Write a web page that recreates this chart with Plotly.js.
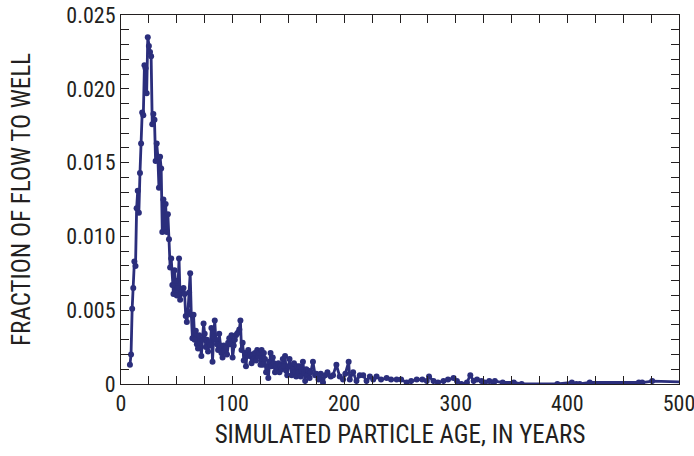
<!DOCTYPE html>
<html><head><meta charset="utf-8">
<script src="https://cdn.plot.ly/plotly-3.0.1.min.js"></script>
<style>html,body{margin:0;padding:0;background:#fff}#c{width:694px;height:456px}</style>
</head><body><div id="c"></div>
<script>
const ageYears = [8,9,10,11,12,13,14,15,16,17,18,19,20,21,22,23,24,25,26,27,28,29,30,31,32,33,34,35,36,37,38,39,40,41,42,43,44,45,46,47,48,49,50,51,52,53,54,55,56,57,58,59,60,61,62,63,64,65,66,67,68,69,70,71,72,73,74,75,76,77,78,79,80,81,82,83,84,85,86,87,88,89,90,91,92,93,94,95,96,97,98,99,100,101,102,103,104,105,106,107,108,109,110,111,112,113,114,115,116,117,118,119,120,121,122,123,124,125,126,127,128,129,130,131,132,133,134,135,136,137,138,139,140,141,142,143,144,145,146,147,148,149,150,151,152,153,154,155,156,157,158,159,160,161,162,163,164,165,166,167,168,169,170,172,174,175,177,179,181,183,185,188,190,193,196,199,201,204,205,208,211,214,217,220,223,226,229,233,238,242,247,251,256,260,265,270,274,276,280,284,289,293,298,301,305,310,313,316,319,323,326,330,334,335,342,352,359,391,404,408,411,420,464,467,476,520];
const flowFraction = [0.0013,0.0020,0.0051,0.0065,0.0083,0.0080,0.0119,0.0131,0.0116,0.0143,0.0163,0.0184,0.0182,0.0216,0.0214,0.0197,0.0235,0.0229,0.0225,0.0222,0.0176,0.0183,0.0179,0.0151,0.0163,0.0154,0.0133,0.0154,0.0146,0.0103,0.0125,0.0105,0.0122,0.0103,0.0115,0.0098,0.0079,0.0085,0.0067,0.0061,0.0077,0.0070,0.0060,0.0065,0.0085,0.0057,0.0062,0.0064,0.0065,0.0061,0.0046,0.0042,0.0049,0.0062,0.0075,0.0047,0.0031,0.0047,0.0030,0.0036,0.0027,0.0024,0.0033,0.0028,0.0019,0.0030,0.0041,0.0034,0.0025,0.0030,0.0022,0.0028,0.0026,0.0038,0.0015,0.0032,0.0043,0.0030,0.0027,0.0023,0.0034,0.0026,0.0021,0.0018,0.0026,0.0022,0.0025,0.0020,0.0028,0.0031,0.0027,0.0033,0.0018,0.0026,0.0030,0.0033,0.0034,0.0035,0.0037,0.0043,0.0023,0.0028,0.0016,0.0021,0.0012,0.0021,0.0023,0.0019,0.0020,0.0014,0.0020,0.0017,0.0021,0.0016,0.0023,0.0019,0.0021,0.0013,0.0023,0.0013,0.0021,0.0017,0.0008,0.0012,0.0004,0.0015,0.0021,0.0012,0.0018,0.0014,0.0008,0.0012,0.0009,0.0014,0.0008,0.0012,0.0010,0.0017,0.0012,0.0019,0.0009,0.0006,0.0012,0.0017,0.0012,0.0006,0.0010,0.0014,0.0008,0.0005,0.0012,0.0008,0.0012,0.0005,0.0009,0.0015,0.0008,0.0002,0.0010,0.0006,0.0009,0.0004,0.0008,0.0015,0.0006,0.0007,0.0003,0.0007,0.0001,0.0006,0.0008,0.0005,0.0006,0.0013,0.0005,0.0003,0.0007,0.0015,0.0003,0.0008,0.0002,0.0006,0.0006,0.0002,0.0005,0.0003,0.0005,0.0003,0.0004,0.0003,0.0003,0.0003,0.0001,0.0002,0.0003,0.0003,0.0002,0.0005,0.0002,0.0001,0.0002,0.0003,0.0004,0.0002,0.0000,0.0001,0.0006,0.0002,0.0003,0.0002,0.0001,0.0002,0.0000,0.0002,0.0001,0.0001,0.0000,0.0000,0.0001,0.0000,0.0000,0.0001,0.0001,0.0001,0.0002,0.0001];
const xTickVals = [0,100,200,300,400,500];
const xTickText = ['0','100','200','300','400','500'];
const yTickVals = [0,0.005,0.010,0.015,0.020,0.025];
const yTickText = ['0','0.005','0.010','0.015','0.020','0.025'];

const navy = '#2b2e7c';
const ink = '#231f20';
const fontFam = '"Liberation Sans Narrow","Roboto Condensed","Arial Narrow","Liberation Sans",sans-serif';
const trace = {
  x: ageYears, y: flowFraction, type: 'scatter', mode: 'lines+markers',
  line: {color: navy, width: 2.8},
  marker: {color: navy, size: 6},
  cliponaxis: true
};
const layout = {
  width: 694, height: 456,
  margin: {l: 121, r: 15, t: 15, b: 72},
  paper_bgcolor: '#fff', plot_bgcolor: '#fff',
  showlegend: false,
  font: {family: fontFam, color: ink},
  xaxis: {
    range: [0, 500], tickvals: xTickVals, ticktext: xTickText,
    ticks: 'inside', ticklen: 8, tickcolor: ink, tickwidth: 1,
    minor: {dtick: 25, tick0: 0, ticks: 'inside', ticklen: 8, tickcolor: ink, tickwidth: 1},
    showline: true, linecolor: ink, linewidth: 1, mirror: 'allticks',
    showgrid: false, zeroline: false, ticklabeloverflow: 'allow',
    tickfont: {size: 22, family: fontFam, color: ink},
    title: {text: 'SIMULATED PARTICLE AGE, IN YEARS', font: {size: 25, family: fontFam, color: ink}, standoff: 10}
  },
  yaxis: {
    range: [0, 0.025], tickvals: yTickVals, ticktext: yTickText,
    ticks: 'inside', ticklen: 8, tickcolor: ink, tickwidth: 1,
    minor: {dtick: 0.001, tick0: 0, ticks: 'inside', ticklen: 8, tickcolor: ink, tickwidth: 1},
    showline: true, linecolor: ink, linewidth: 1, mirror: 'allticks',
    showgrid: false, zeroline: false, ticklabeloverflow: 'allow',
    tickfont: {size: 22, family: fontFam, color: ink},
    title: {text: 'FRACTION OF FLOW TO WELL', font: {size: 25, family: fontFam, color: ink}, standoff: 28}
  }
};
Plotly.newPlot('c', [trace], layout, {staticPlot: true, displayModeBar: false});
</script></body></html>
